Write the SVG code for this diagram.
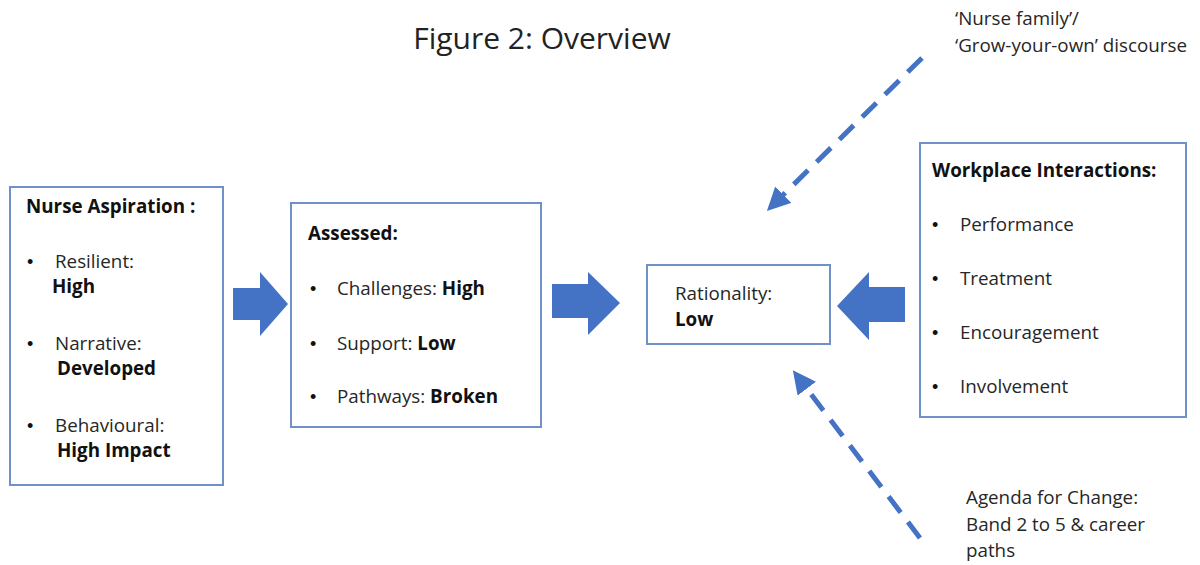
<svg xmlns="http://www.w3.org/2000/svg" width="1200" height="565" viewBox="0 0 1200 565">
  <defs>
    <style>
      .box { fill: #ffffff; stroke: #7090c8; stroke-width: 2; }
      .t { font-family: "Open Sans", "Liberation Sans", Arial, sans-serif; font-size: 18.8px; fill: #262626; }
      .b { font-weight: bold; fill: #111111; }
      .dot { font-family: "Liberation Sans", Arial, sans-serif; font-size: 18px; fill: #111111; }
      .title { font-family: "Open Sans", "Liberation Sans", Arial, sans-serif; font-size: 30px; fill: #222222; }
      .block { fill: #4472c4; }
      .dash { fill: none; stroke: #4472c4; stroke-width: 5; stroke-dasharray: 20 12; }
    </style>
    <marker id="head" viewBox="0 0 10 10" refX="2" refY="5" markerWidth="4.6" markerHeight="4.6" orient="auto" markerUnits="strokeWidth">
      <path d="M0,0 L10,5 L0,10 Z" fill="#4472c4"/>
    </marker>
  </defs>

  <rect width="1200" height="565" fill="#ffffff"/>

  <text class="title" x="542" y="49" text-anchor="middle">Figure 2: Overview</text>

  <g id="nurse-aspiration">
    <rect class="box" x="10" y="187" width="213" height="298"/>
    <text class="t b" x="26" y="213">Nurse Aspiration :</text>
    <text class="dot" x="27" y="268">•</text>
    <text class="t" x="55" y="268">Resilient:</text>
    <text class="t b" x="52" y="293">High</text>
    <text class="dot" x="27" y="350">•</text>
    <text class="t" x="55" y="350">Narrative:</text>
    <text class="t b" x="57" y="375">Developed</text>
    <text class="dot" x="27" y="432">•</text>
    <text class="t" x="55" y="432">Behavioural:</text>
    <text class="t b" x="57" y="457">High Impact</text>
  </g>

  <g id="assessed">
    <rect class="box" x="291" y="203" width="250" height="224"/>
    <text class="t b" x="308" y="240">Assessed:</text>
    <text class="dot" x="310" y="295">•</text>
    <text class="t" x="337" y="295">Challenges: <tspan class="b">High</tspan></text>
    <text class="dot" x="310" y="350">•</text>
    <text class="t" x="337" y="350">Support: <tspan class="b">Low</tspan></text>
    <text class="dot" x="310" y="403">•</text>
    <text class="t" x="337" y="403">Pathways: <tspan class="b">Broken</tspan></text>
  </g>

  <g id="rationality">
    <rect class="box" x="647" y="265" width="183" height="79"/>
    <text class="t" x="675" y="300">Rationality:</text>
    <text class="t b" x="675" y="326">Low</text>
  </g>

  <g id="workplace-interactions">
    <rect class="box" x="920" y="143" width="266" height="274"/>
    <text class="t b" x="932" y="177">Workplace Interactions:</text>
    <text class="dot" x="932" y="231">•</text>
    <text class="t" x="960" y="231">Performance</text>
    <text class="dot" x="932" y="285">•</text>
    <text class="t" x="960" y="285">Treatment</text>
    <text class="dot" x="932" y="339">•</text>
    <text class="t" x="960" y="339">Encouragement</text>
    <text class="dot" x="932" y="393">•</text>
    <text class="t" x="960" y="393">Involvement</text>
  </g>

  <g id="discourse-label">
    <text class="t" x="955" y="25">‘Nurse family’/</text>
    <text class="t" x="955" y="52">‘Grow-your-own’ discourse</text>
  </g>

  <g id="agenda-label">
    <text class="t" x="966" y="504">Agenda for Change:</text>
    <text class="t" x="966" y="531">Band 2 to 5 &amp; career</text>
    <text class="t" x="966" y="557">paths</text>
  </g>

  <g id="connectors">
    <!-- block arrows between stages -->
    <path class="block" d="M233,288 L260,288 L260,272 L288,304 L260,336 L260,320 L233,320 Z"/>
    <path class="block" d="M552,284 L588,284 L588,272 L620,303 L588,335 L588,318 L552,318 Z"/>
    <path class="block" d="M905,287 L869,287 L869,272 L837,306 L869,340 L869,322 L905,322 Z"/>
    <!-- dashed influence arrows -->
    <line class="dash" x1="922" y1="58" x2="780" y2="198" marker-end="url(#head)"/>
    <line class="dash" x1="920" y1="538" x2="804" y2="385" marker-end="url(#head)"/>
  </g>
</svg>
